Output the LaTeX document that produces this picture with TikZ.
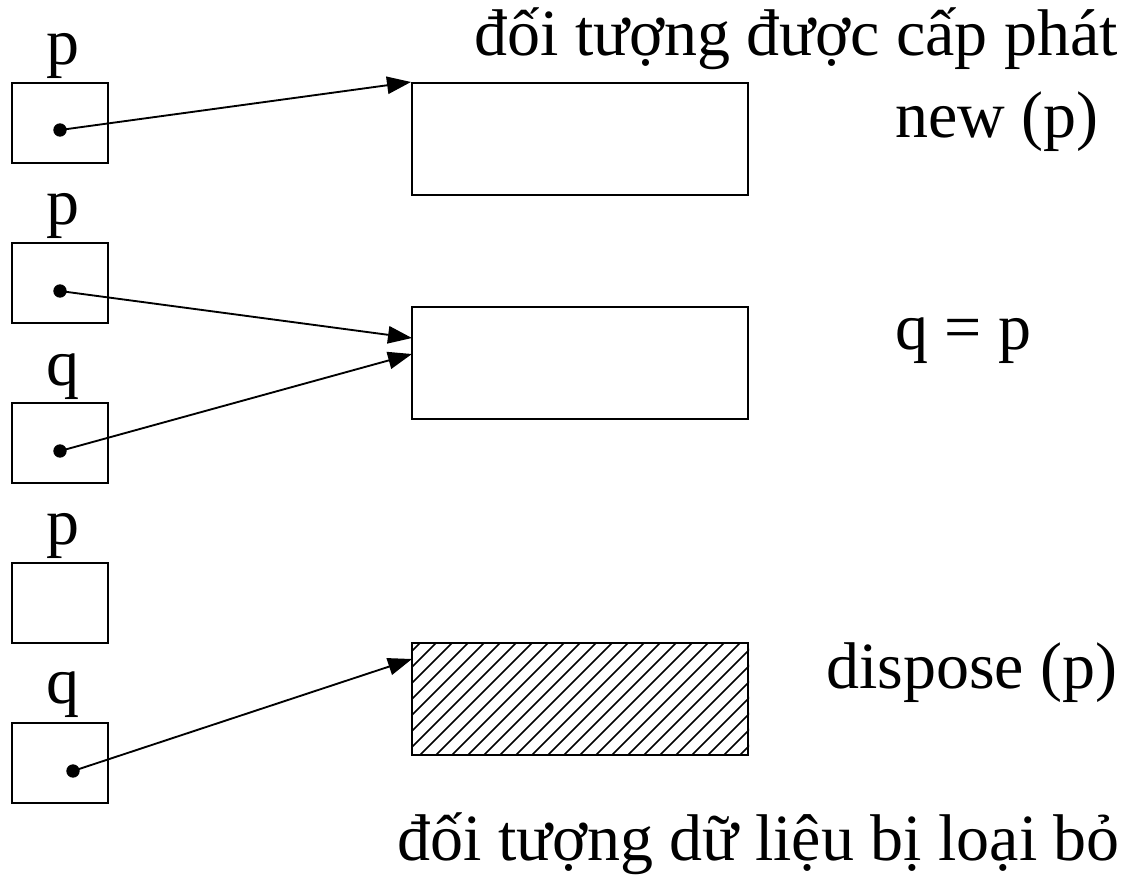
\documentclass[tikz,border=0pt]{standalone}
\usepackage{fontspec}
\setmainfont{Liberation Serif}
\usetikzlibrary{arrows.meta}
\begin{document}
\begin{tikzpicture}[x=0.75pt,y=-0.75pt,
  txt/.style={inner sep=0pt,font=\fontsize{49.5}{58}\selectfont},
  ptr/.style={draw,line width=1.5pt,minimum width=72pt,minimum height=60pt,inner sep=0pt},
  obj/.style={draw,line width=1.5pt,minimum width=252pt,minimum height=84pt,inner sep=0pt},
  dotc/.style={circle,fill,inner sep=0pt,minimum size=10pt},
  arr/.style={line width=1.4pt,-{Triangle[length=18pt,width=13pt]}}]
\useasboundingbox (0,0) rectangle (1131,875);
% pointer boxes
\node[ptr] (b1) at (60,123) {};
\node[ptr] (b2) at (60,283) {};
\node[ptr] (b3) at (60,443) {};
\node[ptr] (b4) at (60,603) {};
\node[ptr] (b5) at (60,763) {};
\node[dotc] (d1) at (60,130) {};
\node[dotc] (d2) at (60,291) {};
\node[dotc] (d3) at (60,451) {};
\node[dotc] (d5) at (73,771) {};
% labels
\node[txt,anchor=base] (l1) at (63,64) {p};
\node[txt,anchor=base] (l2) at (63,224) {p};
\node[txt,anchor=base] (l3) at (63,385) {q};
\node[txt,anchor=base] (l4) at (63,544) {p};
\node[txt,anchor=base] (l5) at (63,703) {q};
% objects
\node[obj] (oA) at (580,139) {};
\node[obj] (oB) at (580,363) {};
\node[obj] (oC) at (580,699) {};
\begin{scope}
\clip (oC.south west) rectangle (oC.north east);
\foreach \i in {-120,-104,...,460} {
  \draw[line width=1.2pt] (412+\i,755) -- ++(112,-112);
}
\end{scope}
\node[obj] at (oC) {};
% coordinates for arrow ends
\coordinate (eA) at (oA.north west);
\coordinate (eB1) at (412,338);
\coordinate (eB2) at (412,354);
\coordinate (eC) at (412,659);
\draw[arr] (d1.center) -- (eA);
\draw[arr] (d2.center) -- (eB1);
\draw[arr] (d3.center) -- (eB2);
\draw[arr] (d5.center) -- (eC);
% texts
\node[txt,anchor=base east] (t1) at (1118,55) {đối tượng được cấp phát};
\node[txt,anchor=base east] (t2) at (1099,137) {new (p)};
\node[txt,anchor=base west] (t3) at (895,349) {q = p};
\node[txt,anchor=base east] (t4) at (1118,688) {dispose (p)};
\node[txt,anchor=base east] (t5) at (1120,860) {đối tượng dữ liệu bị loại bỏ};
\end{tikzpicture}
\end{document}
